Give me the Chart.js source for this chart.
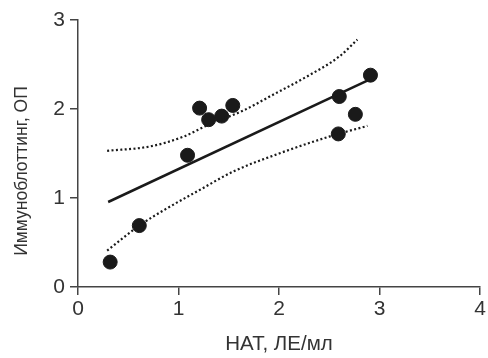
<!DOCTYPE html>
<html>
<head>
<meta charset="utf-8">
<script src="https://cdn.jsdelivr.net/npm/chart.js@4/dist/chart.umd.min.js"></script>
<style>
  html, body { margin: 0; padding: 0; background: #fff; }
  #wrap { width: 488px; height: 358px; }
</style>
</head>
<body>
<div id="wrap"><canvas id="chart" width="488" height="358"></canvas></div>
<script>
// Точки: НАТ (x) и иммуноблоттинг (y)
const natX = [0.32, 0.61, 1.09, 1.21, 1.30, 1.43, 1.54, 2.59, 2.60, 2.76, 2.91];
const blotY = [0.28, 0.69, 1.48, 2.01, 1.88, 1.92, 2.04, 1.72, 2.14, 1.94, 2.38];

// Линия регрессии
const fitX = [0.3, 2.9];
const fitY = [0.955, 2.33];

// Доверительные границы (пунктир)
const upperX = [0.29, 0.72, 1.05, 1.31, 1.64, 1.94, 2.27, 2.60, 2.78];
const upperY = [1.53, 1.58, 1.69, 1.83, 1.98, 2.16, 2.36, 2.59, 2.78];
const lowerX = [0.29, 0.61, 0.88, 1.21, 1.55, 2.0, 2.50, 2.88];
const lowerY = [0.41, 0.69, 0.88, 1.09, 1.30, 1.50, 1.69, 1.81];

const xTicks = [0, 1, 2, 3, 4];
const yTicks = [0, 1, 2, 3];

const yTitle = 'Иммуноблоттинг, ОП';
const xTitle = 'НАТ, ЛЕ/мл';

function toPoints(xs, ys) {
    return xs.map((x, i) => ({ x: x, y: ys[i] }));
}

const ink = '#1a1a1a';
const axisColor = '#444';
const textColor = '#333';
const fontFamily = 'Liberation Sans, Arial, sans-serif';

// подпись оси Y рисуем сами, чтобы сместить её чуть ниже центра
const yTitlePlugin = {
    id: 'yTitle',
    afterDraw(chart) {
        const c = chart.ctx;
        c.save();
        c.translate(22, 171);
        c.rotate(-Math.PI / 2);
        c.fillStyle = textColor;
        c.font = '17.5px ' + fontFamily;
        c.textAlign = 'center';
        c.textBaseline = 'middle';
        c.fillText(yTitle, 0, 0);
        c.restore();
    }
};

const ctx = document.getElementById('chart').getContext('2d');
new Chart(ctx, {
    type: 'scatter',
    data: {
        datasets: [
            {
                data: toPoints(upperX, upperY),
                showLine: true,
                borderColor: ink,
                borderWidth: 2.2,
                borderDash: [2, 2.4],
                pointRadius: 0,
                cubicInterpolationMode: 'monotone',
                fill: false
            },
            {
                data: toPoints(lowerX, lowerY),
                showLine: true,
                borderColor: ink,
                borderWidth: 2.2,
                borderDash: [2, 2.4],
                pointRadius: 0,
                cubicInterpolationMode: 'monotone',
                fill: false
            },
            {
                data: toPoints(fitX, fitY),
                showLine: true,
                borderColor: ink,
                borderWidth: 2.5,
                pointRadius: 0
            },
            {
                data: toPoints(natX, blotY),
                backgroundColor: ink,
                borderColor: ink,
                pointRadius: 7,
                pointHoverRadius: 7
            }
        ]
    },
    options: {
        responsive: false,
        animation: false,
        layout: { padding: { top: 20, right: 7, left: 0, bottom: 0 } },
        plugins: {
            legend: { display: false },
            tooltip: { enabled: false }
        },
        scales: {
            x: {
                type: 'linear',
                min: 0,
                max: 4,
                afterFit: function(scale) { scale.height = 71; },
                afterBuildTicks: function(scale) { scale.ticks = xTicks.map(v => ({ value: v })); },
                border: { display: true, color: axisColor, width: 1.5 },
                grid: { drawOnChartArea: false, drawTicks: true, tickLength: 8, color: axisColor, lineWidth: 1.5 },
                ticks: { color: textColor, font: { family: fontFamily, size: 21 }, padding: 2 },
                title: {
                    display: true,
                    text: xTitle,
                    color: textColor,
                    font: { family: fontFamily, size: 20.5 },
                    padding: { top: 0, bottom: 1 }
                }
            },
            y: {
                type: 'linear',
                min: 0,
                max: 3,
                afterFit: function(scale) { scale.width = 78; },
                afterBuildTicks: function(scale) { scale.ticks = yTicks.map(v => ({ value: v })); },
                border: { display: true, color: axisColor, width: 1.5 },
                grid: { drawOnChartArea: false, drawTicks: true, tickLength: 8, color: axisColor, lineWidth: 1.5 },
                ticks: { color: textColor, font: { family: fontFamily, size: 21 }, padding: 5 },
                title: { display: false }
            }
        }
    },
    plugins: [yTitlePlugin]
});
</script>
</body>
</html>
